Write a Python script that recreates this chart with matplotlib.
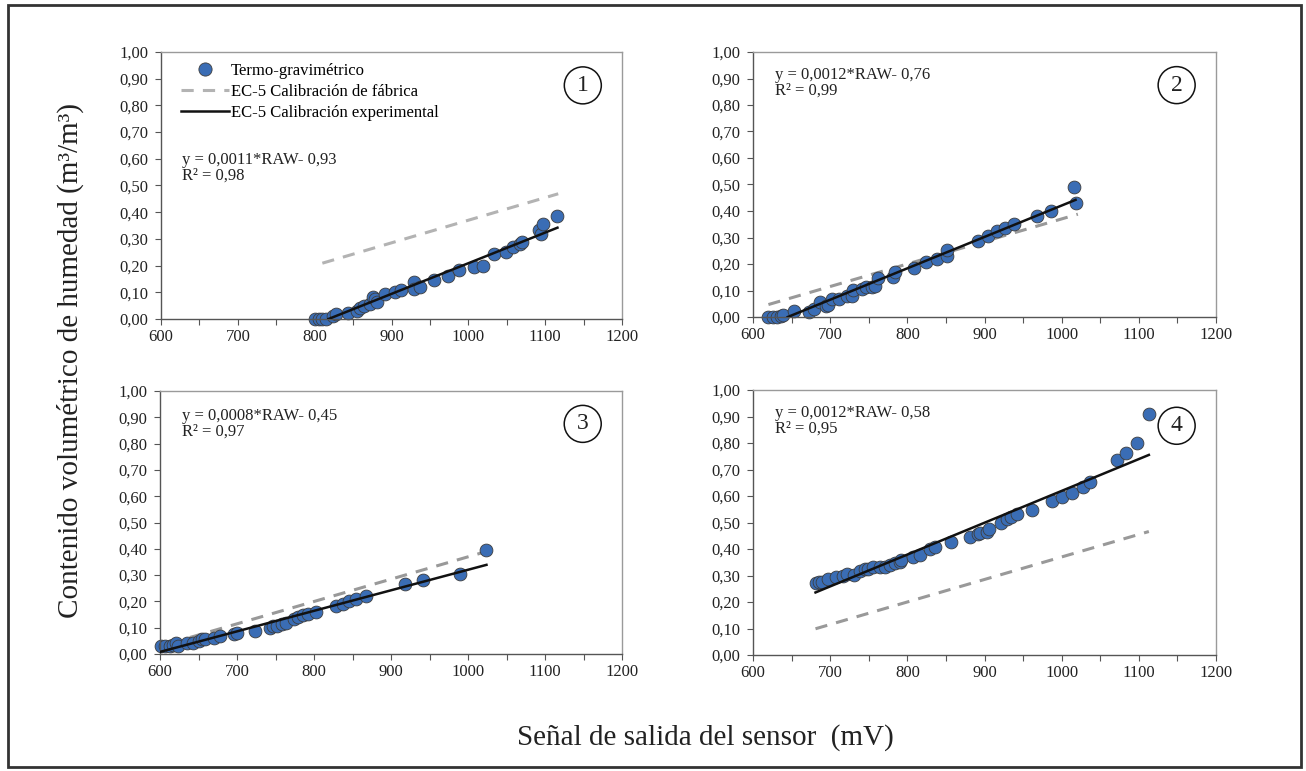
"""Calibración del sensor EC-5: contenido volumétrico de humedad vs señal (4 paneles)."""
import matplotlib
matplotlib.use("Agg")
import matplotlib.pyplot as plt
from matplotlib.patches import Rectangle, Ellipse
from matplotlib.lines import Line2D
from matplotlib.ticker import MultipleLocator, FuncFormatter

plt.rcParams["font.family"] = ["Liberation Serif", "DejaVu Serif"]

# ---- data ---------------------------------------------------------------
p1_raw = [800, 805, 810, 815, 824, 828, 844, 855, 859, 864, 872, 876, 878,
          881, 891, 904, 913, 929, 929, 937, 955, 974, 988, 1007, 1019,
          1033, 1049, 1058, 1067, 1070, 1092, 1095, 1097, 1116]
p1_vwc = [0.00, 0.00, 0.00, 0.00, 0.01, 0.02, 0.022, 0.03, 0.04, 0.05,
          0.058, 0.083, 0.074, 0.064, 0.093, 0.10, 0.108, 0.139, 0.114,
          0.12, 0.145, 0.16, 0.183, 0.193, 0.20, 0.242, 0.252, 0.268, 0.28,
          0.288, 0.335, 0.32, 0.354, 0.387]

p2_raw = [620, 626, 631, 636, 639, 653, 673, 679, 687, 694, 697, 702, 712,
          722, 728, 730, 741, 747, 754, 758, 762, 781, 784, 809, 824, 838,
          851, 851, 891, 905, 916, 927, 938, 968, 986, 1016, 1018]
p2_vwc = [0.00, 0.00, 0.00, 0.005, 0.008, 0.024, 0.019, 0.03, 0.055,
          0.043, 0.046, 0.068, 0.068, 0.078, 0.08, 0.103, 0.105, 0.113,
          0.113, 0.118, 0.147, 0.15, 0.168, 0.185, 0.209, 0.22, 0.231,
          0.254, 0.288, 0.307, 0.325, 0.335, 0.352, 0.382, 0.40, 0.492,
          0.43]

p3_raw = [601, 606, 613, 617, 621, 623, 635, 643, 650, 654, 658, 670, 678,
          696, 700, 723, 743, 747, 752, 759, 764, 774, 779, 786, 792, 803,
          829, 838, 846, 855, 867, 918, 941, 990, 1024]
p3_vwc = [0.029, 0.029, 0.032, 0.034, 0.042, 0.032, 0.042, 0.042, 0.05,
          0.057, 0.057, 0.061, 0.067, 0.076, 0.08, 0.089, 0.10, 0.105,
          0.105, 0.114, 0.118, 0.133, 0.14, 0.147, 0.153, 0.159, 0.181,
          0.191, 0.20, 0.209, 0.219, 0.265, 0.282, 0.303, 0.396]

p4_raw = [681, 686, 689, 697, 708, 716, 722, 731, 739, 745, 749, 756, 764,
          771, 778, 784, 790, 792, 807, 816, 830, 836, 856, 881, 891, 894,
          903, 906, 921, 929, 934, 942, 961, 987, 1000, 1013, 1028, 1037,
          1072, 1084, 1098, 1113]
p4_vwc = [0.273, 0.277, 0.277, 0.286, 0.293, 0.30, 0.306, 0.302, 0.316,
          0.323, 0.325, 0.331, 0.333, 0.333, 0.34, 0.346, 0.352, 0.358,
          0.369, 0.377, 0.399, 0.409, 0.425, 0.447, 0.455, 0.459, 0.465,
          0.474, 0.499, 0.512, 0.519, 0.532, 0.547, 0.582, 0.597, 0.61,
          0.633, 0.654, 0.736, 0.764, 0.799, 0.908]

# factory calibration segments (x range, y ends)
fab_raw = [[810, 1117], [620, 1021], [612, 1023], [681, 1113]]
fab_vwc = [[0.209, 0.469], [0.047, 0.388], [0.040, 0.389], [0.099, 0.466]]

# experimental calibration segments
fit_raw = [[818, 1116], [645, 1018], [600, 1024], [681, 1113]]
fit_vwc = [[0.000, 0.342], [0.000, 0.442], [0.008, 0.339], [0.236, 0.755]]

equations = ["y = 0,0011*RAW- 0,93\nR² = 0,98",
             "y = 0,0012*RAW- 0,76\nR² = 0,99",
             "y = 0,0008*RAW- 0,45\nR² = 0,97",
             "y = 0,0012*RAW- 0,58\nR² = 0,95"]
eq_pos = [(0.046, 0.625), (0.048, 0.945), (0.048, 0.935), (0.048, 0.945)]
panel_ids = ["1", "2", "3", "4"]

series = [(p1_raw, p1_vwc), (p2_raw, p2_vwc), (p3_raw, p3_vwc), (p4_raw, p4_vwc)]

# ---- style ----------------------------------------------------------------
W, H = 1306, 771
BLUE = "#3a6db5"
FAB_GREY = ["#b3b3b3", "#999999", "#999999", "#999999"]

# axes boxes in pixels: left, right, top, bottom
boxes = [(161, 622, 52, 319), (753, 1216, 52, 317),
         (160, 622, 391, 654), (753, 1216, 390, 655)]
circle_pos = [(0.915, 0.875), (0.915, 0.875), (0.915, 0.875), (0.915, 0.865)]

fig = plt.figure(figsize=(W / 100, H / 100), dpi=100)

# outer frame
fig.patches.append(Rectangle((8 / W, 1 - 767 / H), 1293 / W, 762 / H,
                             transform=fig.transFigure, fill=False,
                             lw=2, ec="#333333"))

fmt = FuncFormatter(lambda v, _: f"{v:.2f}".replace(".", ","))
xfmt = FuncFormatter(lambda v, _: f"{int(round(v))}" if round(v) % 100 == 0 else "")

for i, (l, r, t, b) in enumerate(boxes):
    ax = fig.add_axes([l / W, 1 - b / H, (r - l) / W, (b - t) / H])
    raw, vwc = series[i]

    ax.plot(fab_raw[i], fab_vwc[i], "--", color=FAB_GREY[i], lw=2.2,
            dashes=(4, 3), zorder=1)
    ax.scatter(raw, vwc, s=85, color=BLUE, edgecolors="#3d3d3d",
               linewidths=0.6, zorder=2, clip_on=False)
    ax.plot(fit_raw[i], fit_vwc[i], "-", color="#111111", lw=1.8, zorder=3)

    ax.set_xlim(600, 1200)
    ax.set_ylim(0, 1.0)
    ax.xaxis.set_major_locator(MultipleLocator(50))
    ax.xaxis.set_major_formatter(xfmt)
    ax.yaxis.set_major_locator(MultipleLocator(0.1))
    ax.yaxis.set_major_formatter(fmt)
    ax.tick_params(direction="out", length=4, width=0.8, color="#555555",
                   labelsize=12, labelcolor="#222222")
    ax.tick_params(axis="y", pad=5)
    ax.tick_params(axis="x", pad=3)
    for side in ["top", "right"]:
        ax.spines[side].set_color("#9a9a9a")
        ax.spines[side].set_linewidth(1.0)
    for side in ["left", "bottom"]:
        ax.spines[side].set_color("#555555")
        ax.spines[side].set_linewidth(1.0)

    ax.text(eq_pos[i][0], eq_pos[i][1], equations[i], transform=ax.transAxes,
            fontsize=12, va="top", ha="left", linespacing=1.0,
            color="#222222")

    # circled panel number
    cx, cy = circle_pos[i]
    ax.add_patch(Ellipse((cx, cy), 37 / (r - l), 37 / (b - t),
                         transform=ax.transAxes, fill=False, lw=1.1,
                         ec="#111111", zorder=4))
    ax.text(cx, cy, panel_ids[i], transform=ax.transAxes, fontsize=17,
            ha="center", va="center", color="#222222")

    if i == 0:
        handles = [
            Line2D([], [], ls="none", marker="o", ms=9.5, mfc=BLUE,
                   mec="#3d3d3d", mew=0.6),
            Line2D([], [], ls="--", color=FAB_GREY[0], lw=2.2, dashes=(4, 3)),
            Line2D([], [], ls="-", color="#111111", lw=1.8),
        ]
        labels = ["Termo-gravimétrico", "EC-5 Calibración de fábrica",
                  "EC-5 Calibración experimental"]
        ax.legend(handles, labels, loc="upper left",
                  bbox_to_anchor=(0.02, 1.0), frameon=False, fontsize=12,
                  handlelength=2.9, handletextpad=0.1, labelspacing=0.3,
                  borderaxespad=0.25)

fig.text(70 / W, 1 - 360 / H, "Contenido volumétrico de humedad (m³/m³)",
         rotation=90, ha="center", va="center", fontsize=21,
         color="#222222")
fig.text(705 / W, 1 - 738 / H, "Señal de salida del sensor  (mV)",
         ha="center", va="center", fontsize=21, color="#222222")

fig.savefig("out.png", dpi=100)
